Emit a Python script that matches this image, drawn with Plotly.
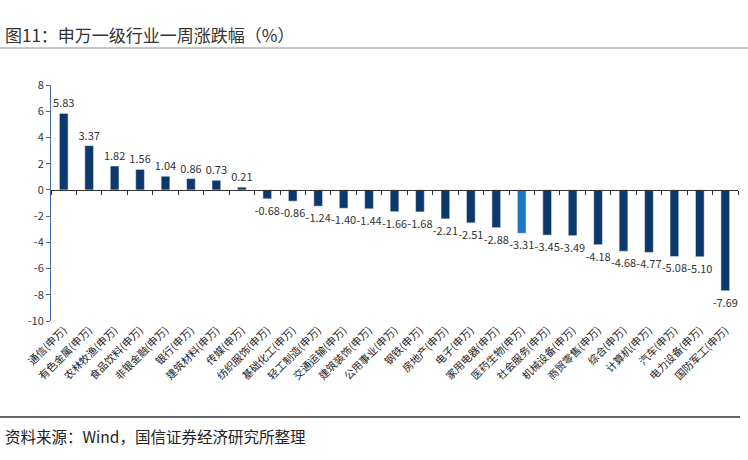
import plotly.graph_objects as go

categories = ["通信(申万)", "有色金属(申万)", "农林牧渔(申万)", "食品饮料(申万)", "非银金融(申万)",
              "银行(申万)", "建筑材料(申万)", "传媒(申万)", "纺织服饰(申万)", "基础化工(申万)",
              "轻工制造(申万)", "交通运输(申万)", "建筑装饰(申万)", "公用事业(申万)", "钢铁(申万)",
              "房地产(申万)", "电子(申万)", "家用电器(申万)", "医药生物(申万)", "社会服务(申万)",
              "机械设备(申万)", "商贸零售(申万)", "综合(申万)", "计算机(申万)", "汽车(申万)",
              "电力设备(申万)", "国防军工(申万)"]
values = [5.83, 3.37, 1.82, 1.56, 1.04, 0.86, 0.73, 0.21, -0.68, -0.86,
          -1.24, -1.40, -1.44, -1.66, -1.68, -2.21, -2.51, -2.88, -3.31, -3.45,
          -3.49, -4.18, -4.68, -4.77, -5.08, -5.10, -7.69]
highlight = "医药生物(申万)"
y_ticks = [8, 6, 4, 2, 0, -2, -4, -6, -8, -10]

base_color = "#0c386b"
hl_color = "#1f78c4"
colors = [hl_color if c == highlight else base_color for c in categories]

FONT = "Noto Sans CJK SC"
ymin, ymax = -10, 8
xrange_ = [-0.5, len(categories) - 0.5]

W, H = 748, 460
ml, mr, mt, mb = 51, 10, 85, 139
pw, ph = W - ml - mr, H - mt - mb

def px_x(p):
    return (p - ml) / pw

def px_y(p):
    return (H - mb - p) / ph

fig = go.Figure()
fig.add_trace(go.Bar(
    x=categories, y=values, marker_color=colors, width=0.34,
    text=[f"{v:.2f}" for v in values], textposition="outside",
    textfont=dict(family=FONT, size=11, color="#333333"),
    constraintext="none",
    cliponaxis=False, showlegend=False, hoverinfo="x+y",
))
# zero-line axis with ticks between categories
fig.add_trace(go.Scatter(
    x=categories, y=[0] * len(categories), xaxis="x2", yaxis="y",
    mode="markers", marker=dict(opacity=0), showlegend=False, hoverinfo="skip",
))

fig.update_layout(
    width=W, height=H,
    margin=dict(l=ml, r=mr, t=mt, b=mb, autoexpand=False),
    paper_bgcolor="white", plot_bgcolor="white",
    font=dict(family=FONT, color="#333333"),
    xaxis=dict(
        categoryorder="array", categoryarray=categories, range=xrange_,
        showline=False, ticks="", showgrid=False, zeroline=False, automargin=False,
        tickangle=-45, tickfont=dict(family=FONT, size=10.5, color="#222222"),
    ),
    xaxis2=dict(
        overlaying="x", anchor="free",
        position=(0 - ymin) / (ymax - ymin), side="bottom",
        categoryorder="array", categoryarray=categories, range=xrange_,
        showline=True, linecolor="#333333", linewidth=1,
        ticks="outside", ticklen=4, tickcolor="#333333", tickson="boundaries",
        showticklabels=False, showgrid=False, zeroline=False, automargin=False,
    ),
    yaxis=dict(
        range=[ymin, ymax], tickvals=y_ticks, ticktext=[str(t) for t in y_ticks],
        showline=True, linecolor="#3c6a9e", linewidth=1,
        ticks="outside", ticklen=4, tickcolor="#3c6a9e",
        showgrid=False, zeroline=False, automargin=False,
        tickfont=dict(family=FONT, size=11, color="#333333"),
    ),
    shapes=[
        dict(type="line", xref="paper", yref="paper",
             x0=px_x(0), x1=px_x(W), y0=px_y(48), y1=px_y(48),
             line=dict(color="#8a8a8a", width=1)),
        dict(type="line", xref="paper", yref="paper",
             x0=px_x(0), x1=px_x(740), y0=px_y(417), y1=px_y(417),
             line=dict(color="#666666", width=2)),
    ],
    annotations=[
        dict(text="图11：申万一级行业一周涨跌幅（%）", xref="paper", yref="paper",
             x=px_x(3), y=px_y(35), xanchor="left", yanchor="middle",
             showarrow=False, font=dict(family=FONT, size=17, color="#333333")),
        dict(text="资料来源：Wind，国信证券经济研究所整理", xref="paper", yref="paper",
             x=px_x(3), y=px_y(436), xanchor="left", yanchor="middle",
             showarrow=False, font=dict(family=FONT, size=15.5, color="#222222")),
    ],
)

fig.write_html("out.html", config={"displayModeBar": False},
               post_script="document.body.style.margin='0';document.body.style.overflow='hidden';")
